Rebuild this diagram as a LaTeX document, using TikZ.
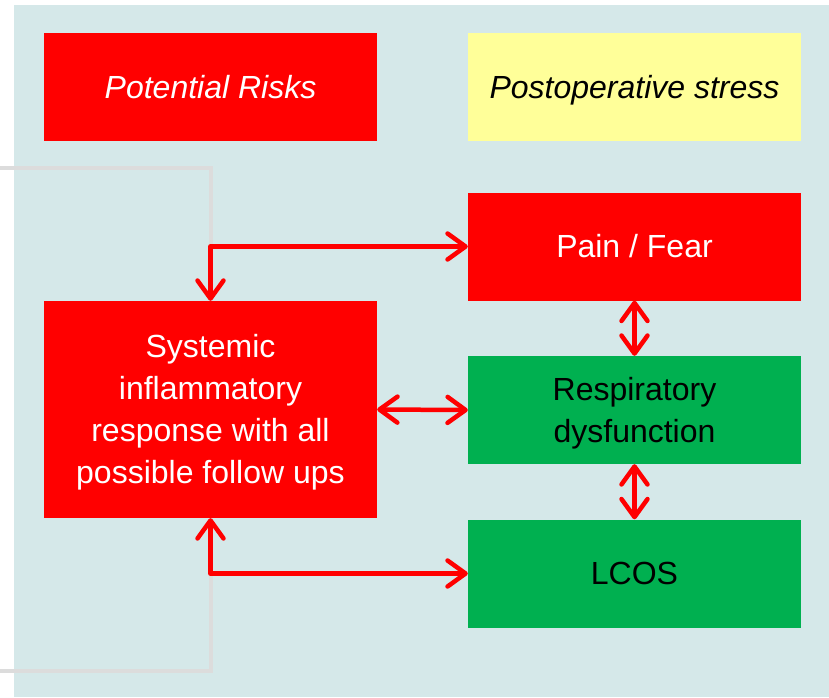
\documentclass[tikz,border=0pt]{standalone}
\usepackage{fontspec}
\setmainfont{Liberation Sans}
\usetikzlibrary{arrows.meta}
\definecolor{bgblue}{HTML}{D5E8E9}
\definecolor{boxred}{HTML}{FF0000}
\definecolor{boxgreen}{HTML}{00B050}
\definecolor{boxyellow}{HTML}{FFFF99}
\definecolor{linegray}{HTML}{DCDCDC}
\newcommand{\boxlines}[1]{\begin{tabular}[b]{@{}c@{}}#1\end{tabular}}
\tikzset{
  box/.style={draw=none, minimum width=333pt, minimum height=108pt, inner sep=0pt,
    text height=22.9pt, text depth=0pt,
    font=\fontsize{32pt}{42pt}\selectfont},
  redbox/.style={box, fill=boxred, text=white},
  greenbox/.style={box, fill=boxgreen, text=black},
  yellowbox/.style={box, fill=boxyellow, text=black},
  tipbarb/.tip={Straight Barb[length=18pt, width=26pt, line width=4.5pt, round]},
  link/.style={draw=boxred, line width=4.5pt, line cap=round, line join=round, tipbarb-tipbarb},
  grayline/.style={draw=linegray, line width=4pt}
}
\begin{document}
\begin{tikzpicture}[x=1pt, y=-1pt]
\useasboundingbox (0,0) rectangle (829,697);
\fill[white] (0,0) rectangle (829,697);
\fill[bgblue] (14,5) rectangle (829,697);
% gray bracket behind
\coordinate (g1) at (0,168);
\coordinate (g2) at (211,168);
\coordinate (g3) at (211,671);
\coordinate (g4) at (0,671);
\draw[grayline] (g1) -- (g2) -- (g3) -- (g4);
% boxes
\node[redbox, font=\fontsize{32pt}{42pt}\selectfont\itshape] (risks) at (210.5,87) {Potential Risks};
\node[yellowbox, font=\fontsize{32pt}{42pt}\selectfont\itshape] (stress) at (634.5,87) {Postoperative stress};
\node[redbox] (pain) at (634.5,246.5) {Pain / Fear};
\node[greenbox, text height=64.9pt] (resp) at (634.5,410) {\boxlines{Respiratory\\dysfunction}};
\node[greenbox] (lcos) at (634.5,573.5) {LCOS};
\node[redbox, minimum height=217pt, text height=148.9pt] (sys) at (210.5,409.5)
  {\boxlines{Systemic\\inflammatory\\response with all\\possible follow ups}};
% connectors
\draw[link] (sys.north) |- (pain.west);
\draw[link] (sys.south) |- (lcos.west);
\draw[link] (sys.east) -- (resp.west);
\draw[link] (pain.south) -- (resp.north);
\draw[link] (resp.south) -- (lcos.north);
\end{tikzpicture}
\end{document}
